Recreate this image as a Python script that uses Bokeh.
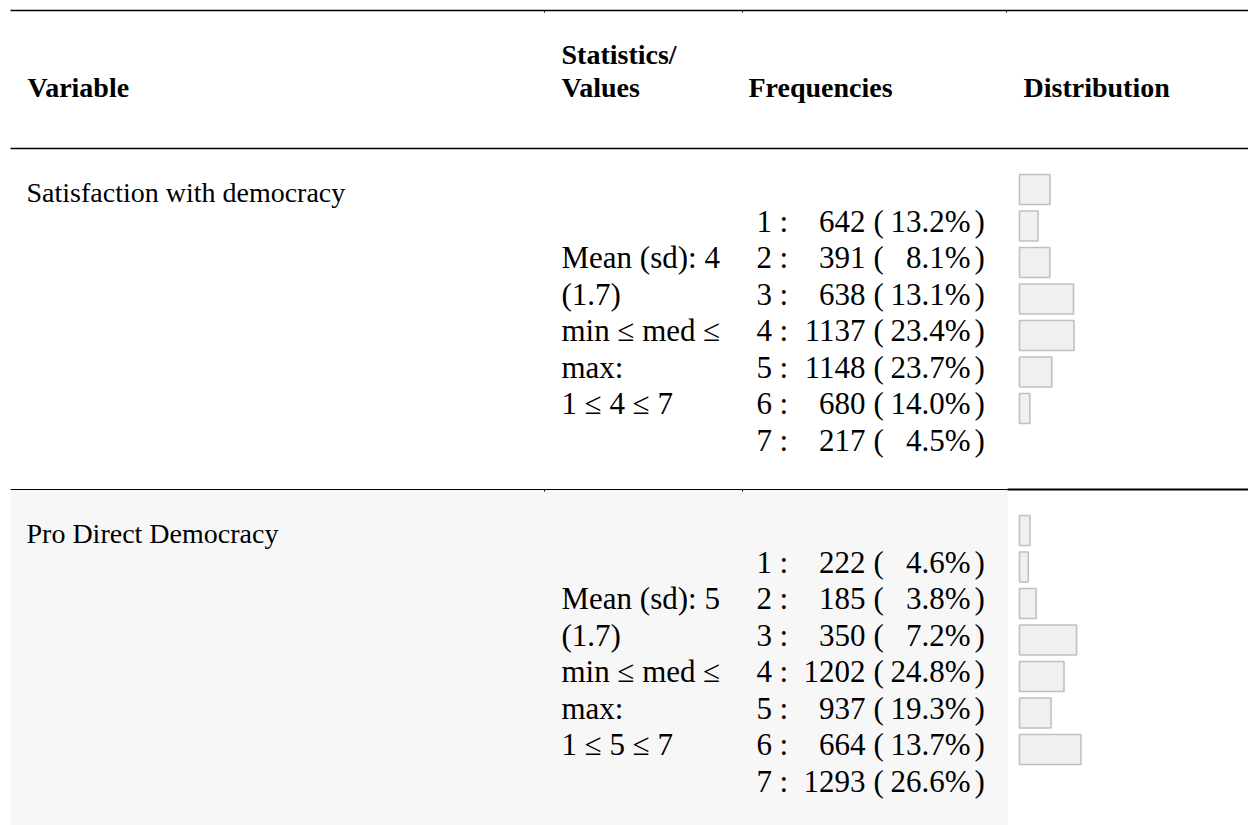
from bokeh.plotting import figure
from bokeh.models import Range1d, ColumnDataSource
from bokeh.core.properties import value
from bokeh.embed import file_html
from bokeh.resources import INLINE

# ---------------- data ----------------
headers = ["Variable", "Statistics/", "Values", "Frequencies", "Distribution"]
variables = ["Satisfaction with democracy", "Pro Direct Democracy"]
stats_sat = ["Mean (sd): 4", "(1.7)", "min \u2264 med \u2264", "max:", "1 \u2264 4 \u2264 7"]
stats_pro = ["Mean (sd): 5", "(1.7)", "min \u2264 med \u2264", "max:", "1 \u2264 5 \u2264 7"]
levels = [1, 2, 3, 4, 5, 6, 7]
counts_sat = [642, 391, 638, 1137, 1148, 680, 217]
pct_sat = [13.2, 8.1, 13.1, 23.4, 23.7, 14.0, 4.5]
counts_pro = [222, 185, 350, 1202, 937, 664, 1293]
pct_pro = [4.6, 3.8, 7.2, 24.8, 19.3, 13.7, 26.6]

# ---------------- layout (page pixels) ----------------
W, H = 1248, 825
X0, Y0 = 0, 0
FONT = "Liberation Serif"
FS = "31px"
LINE_H = 36.5
BAR_LEFT = 1019
PX_PER_COUNT = 0.0475

p = figure(width=W, height=H, output_backend="svg", toolbar_location=None,
           x_range=Range1d(X0, X0 + W), y_range=Range1d(Y0 + H, Y0),
           min_border=0, outline_line_color=None, background_fill_color="white",
           border_fill_color="white")
p.axis.visible = False
p.grid.visible = False
p.extra_x_ranges = {"cnt": Range1d((X0 - BAR_LEFT) / PX_PER_COUNT,
                                   (X0 + W - BAR_LEFT) / PX_PER_COUNT)}

TOP_LINE, HEAD_LINE, ROW_SEP = 10, 148, 489
row_tops = [HEAD_LINE, ROW_SEP]

# grey background of 2nd row
p.quad(left=[10], right=[1007], top=[ROW_SEP], bottom=[Y0 + H + 20],
       fill_color="#f7f7f7", line_color=None)

# rules
p.segment(x0=[10, 10, 10, 1007], x1=[1260, 1260, 1007, 1260],
          y0=[TOP_LINE, HEAD_LINE, ROW_SEP, ROW_SEP],
          y1=[TOP_LINE, HEAD_LINE, ROW_SEP, ROW_SEP],
          line_color="black", line_width=[1.3, 1.3, 1.2, 2.2])
# small column ticks
p.segment(x0=[544, 742, 1006, 544, 742], x1=[544, 742, 1006, 544, 742],
          y0=[TOP_LINE, TOP_LINE, TOP_LINE, ROW_SEP, ROW_SEP],
          y1=[TOP_LINE + 2, TOP_LINE + 2, TOP_LINE + 2, ROW_SEP + 2, ROW_SEP + 2],
          line_color="black", line_width=1)

# headers
p.text(x=[27, 561, 561, 748, 1023], y=[87, 54, 87, 87, 87], text=headers,
       text_font=value(FONT), text_font_size="28px", text_font_style="bold",
       text_baseline="alphabetic", text_align="left", text_color="black")

for r, (top, var, stats, counts, pcts) in enumerate(zip(
        row_tops, variables, [stats_sat, stats_pro], [counts_sat, counts_pro],
        [pct_sat, pct_pro])):
    # variable name
    p.text(x=[26], y=[top + 44], text=[var], text_font=value(FONT),
           text_font_size="28px", text_baseline="alphabetic", text_color="black")
    # statistics
    sy = [top + 72.5 + (j + 1) * LINE_H for j in range(len(stats))]
    p.text(x=[561] * len(stats), y=sy, text=stats, text_font=value(FONT),
           text_font_size=FS, text_baseline="alphabetic", text_color="black")
    # frequencies
    fy = [top + 72.5 + i * LINE_H for i in range(len(levels))]
    n = len(levels)
    common = dict(text_font=value(FONT), text_font_size=FS,
                  text_baseline="alphabetic", text_color="black")
    p.text(x=[756] * n, y=fy, text=[str(v) for v in levels], text_align="left", **common)
    p.text(x=[779] * n, y=fy, text=[":"] * n, text_align="left", **common)
    p.text(x=[865] * n, y=fy, text=[str(c) for c in counts], text_align="right", **common)
    p.text(x=[873] * n, y=fy, text=["("] * n, text_align="left", **common)
    p.text(x=[970] * n, y=fy, text=["%.1f%%" % v for v in pcts], text_align="right", **common)
    p.text(x=[974] * n, y=fy, text=[")"] * n, text_align="left", **common)
    # distribution bars
    src = ColumnDataSource(dict(
        left=[0] * n, right=counts,
        top=[top + 26 + i * LINE_H for i in range(n)],
        bottom=[top + 26 + i * LINE_H + 30 for i in range(n)]))
    p.quad(left="left", right="right", top="top", bottom="bottom", source=src,
           x_range_name="cnt", fill_color="#f0f0f0", line_color="#c0c0c0",
           line_width=1.6)

html = file_html(p, INLINE)
html = html.replace("<head>", "<head><style>html,body{margin:0;padding:0;overflow:hidden;}</style>", 1)
open("out.html", "w").write(html)
